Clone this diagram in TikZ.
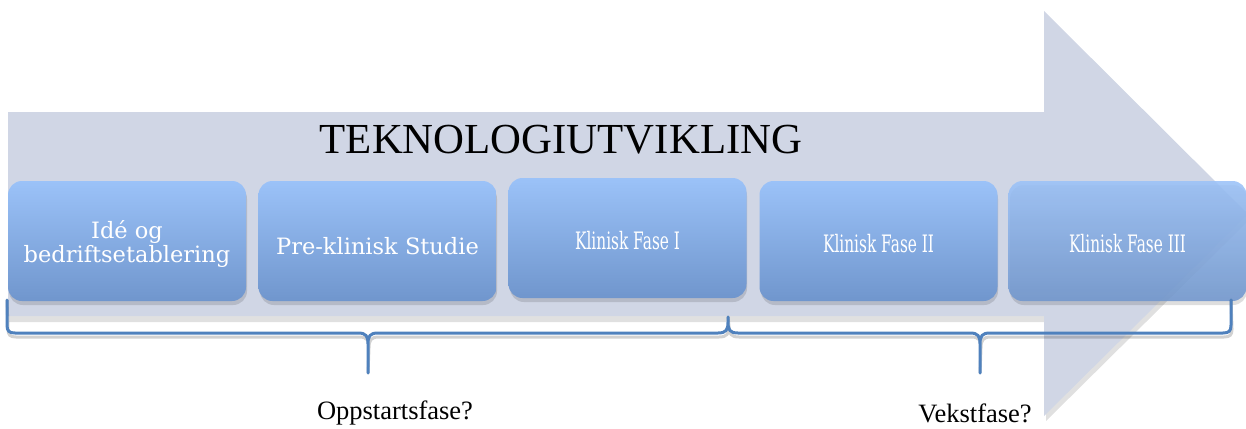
\documentclass[tikz,border=0pt]{standalone}
\usepackage{fontspec}
\usepackage{graphicx}
\setmainfont{Liberation Serif}
\newfontfamily\boxfont{DejaVu Serif}
\definecolor{arrowcol}{RGB}{208,214,229}
\definecolor{boxtop}{RGB}{155,194,248}
\definecolor{boxbot}{RGB}{112,150,205}
\definecolor{bracecol}{RGB}{79,129,189}
\begin{document}
\begin{tikzpicture}[x=1pt,y=-1pt,
  phase/.style={rounded corners=14pt, top color=boxtop, bottom color=boxbot, draw=none,
    minimum width=238pt, minimum height=120pt, inner sep=0pt},
  boxtxt/.style={text=white, font=\boxfont\fontsize{22.5}{24}\selectfont, align=center, inner sep=0pt},
  boxtxtn/.style={text=white, font=\boxfont\fontsize{24}{26}\selectfont, align=center, inner sep=0pt},
  boxshadow/.style={fill=black, opacity=0.13, rounded corners=14pt},
  brace/.style={draw=bracecol, line width=3pt, line join=round, line cap=round},
  braceshadow/.style={draw=black, opacity=0.18, line width=3pt, line join=round, line cap=round},
  title/.style={font=\fontsize{42.8}{46}\selectfont, text=black},
  lbl/.style={font=\fontsize{26.5}{29}\selectfont, text=black}]
\useasboundingbox (0,0) rectangle (1246,428);
% arrow shadow
\fill[black, opacity=0.12] (9,117) -- (1046,117) -- (1046,16) -- (1250,219) -- (1046,421) -- (1046,322) -- (9,322) -- cycle;
% arrow
\fill[arrowcol] (8,112) -- (1044,112) -- (1044,11) -- (1248,214) -- (1044,416) -- (1044,316) -- (8,316) -- cycle;
% title
\node[title] (t) at (561,140) {TEKNOLOGIUTVIKLING};
% box shadows
\fill[boxshadow] (9,185) rectangle (247,305);
\fill[boxshadow] (260,185) rectangle (497,305);
\fill[boxshadow] (510,182) rectangle (747,302);
\fill[boxshadow] (761,185) rectangle (998,305);
\fill[boxshadow] (1010,185) rectangle (1247,305);
% boxes
\node[phase] (b1) at (127,241) {};
\node[phase] (b2) at (377.5,241) {};
\node[phase] (b3) at (627.5,238) {};
\node[phase] (b4) at (878.5,241) {};
\node[phase, opacity=0.88] (b5) at (1127.5,241) {};
\node[boxtxt] (t1) at ([yshift=-3pt]b1.center) {Idé og\\bedriftsetablering};
\node[boxtxt] (t2) at ([yshift=-5pt]b2.center) {Pre-klinisk Studie};
\node[boxtxtn] (t3) at ([yshift=-3pt]b3.center) {\scalebox{0.64}[1]{Klinisk Fase I}};
\node[boxtxtn] (t4) at ([yshift=-3pt]b4.center) {\scalebox{0.64}[1]{Klinisk Fase II}};
\node[boxtxtn] (t5) at ([yshift=-3pt]b5.center) {\scalebox{0.64}[1]{Klinisk Fase III}};
% brackets
\coordinate (bl) at (7,300);
\coordinate (br) at (1231,300);
\coordinate (tip1) at (368,373);
\coordinate (tip2) at (980,373);
\coordinate (peak) at (728,317);
\begin{scope}[shift={(1,4)}]
\draw[braceshadow] (bl) -- (7,325) .. controls (7,331) and (9,333) .. (15,333) -- (358,333)
  .. controls (366,333) and (368,336) .. (368,344) -- (tip1) -- (368,344)
  .. controls (368,336) and (370,333) .. (378,333) -- (718,333)
  .. controls (726,333) and (728,330) .. (728,322) -- (peak) -- (728,322)
  .. controls (728,330) and (730,333) .. (738,333) -- (970,333)
  .. controls (978,333) and (980,336) .. (980,344) -- (tip2) -- (980,344)
  .. controls (980,336) and (982,333) .. (990,333) -- (1223,333)
  .. controls (1229,333) and (1231,331) .. (1231,325) -- (br);
\end{scope}
\draw[brace] (bl) -- (7,325) .. controls (7,331) and (9,333) .. (15,333) -- (358,333)
  .. controls (366,333) and (368,336) .. (368,344) -- (tip1) -- (368,344)
  .. controls (368,336) and (370,333) .. (378,333) -- (718,333)
  .. controls (726,333) and (728,330) .. (728,322) -- (peak) -- (728,322)
  .. controls (728,330) and (730,333) .. (738,333) -- (970,333)
  .. controls (978,333) and (980,336) .. (980,344) -- (tip2) -- (980,344)
  .. controls (980,336) and (982,333) .. (990,333) -- (1223,333)
  .. controls (1229,333) and (1231,331) .. (1231,325) -- (br);
% labels
\node[lbl] (l1) at (395,413) {Oppstartsfase?};
\node[lbl] (l2) at (975,413) {Vekstfase?};
\end{tikzpicture}
\end{document}
